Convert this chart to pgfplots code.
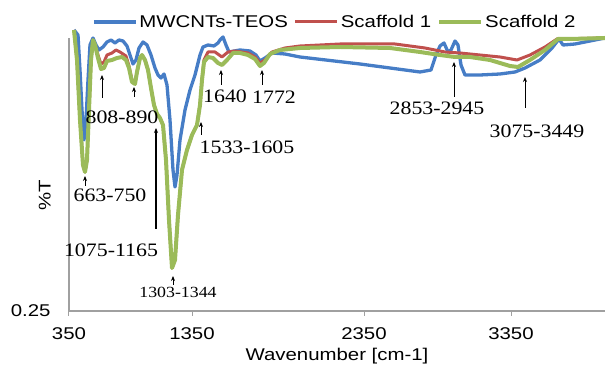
\documentclass[border=0pt]{standalone}
\usepackage{fontspec}
\setmainfont{Liberation Sans}[FakeStretch=1.2]
\newfontfamily\annfont{Liberation Serif}[FakeStretch=1.15]
\usepackage{pgfplots}
\pgfplotsset{compat=1.18}
\usetikzlibrary{arrows.meta}
\definecolor{cblue}{RGB}{70,125,198}
\definecolor{cred}{RGB}{192,80,77}
\definecolor{cgreen}{RGB}{155,187,89}
\definecolor{axgray}{RGB}{160,160,160}
\begin{document}
\begin{tikzpicture}[x=1pt,y=1pt]
\useasboundingbox (-69,-60) rectangle (536,311);
\begin{axis}[
  at={(0,0)}, anchor=south west, scale only axis,
  width=536pt, height=273pt,
  xmin=0, xmax=536, ymin=0, ymax=273,
  clip=false,
  axis x line*=bottom, axis y line*=left,
  axis line style={draw=axgray, line width=1.2pt, -},
  xtick={0,123,295,442},
  xticklabels={350,1350,2350,3350},
  ytick={0}, yticklabels={0.25},
  tick align=outside,
  x tick style={draw=axgray, line width=1pt},
  y tick style={draw=none},
  major tick length=5pt,
  /pgf/number format/assume math mode=true,
  tick label style={font=\fontsize{17}{20}\selectfont},
  xticklabel style={yshift=-8pt},
  yticklabel style={xshift=-10pt},
  xlabel={Wavenumber [cm-1]},
  xlabel style={font=\fontsize{17}{20}\selectfont, at={(axis description cs:0.5,-0.165)}, anchor=center},
  ylabel={\%T},
  ylabel style={font=\fontsize{17}{20}\selectfont, at={(axis description cs:-0.045,0.425)}, anchor=center},
  legend columns=3,
  legend style={draw=none, fill=none, font=\fontsize{17}{20}\selectfont,
    at={(0.496,1.059)}, anchor=center,
    /tikz/every even column/.append style={column sep=4pt},
    inner xsep=0pt, inner ysep=0pt},
  legend cell align=left,
  legend image code/.code={\draw[#1] (0pt,0pt) -- (42pt,0pt);},
]
\addplot[cblue, line width=3.3pt, line join=round] table {
5 281
9 276
11 241
13 201
15 171
17 191
19 231
21 266
24 273
27 266
30 261
34 264
38 269
42 271
46 268
50 271
54 270
58 265
61 256
64 247
67 251
70 263
74 269
78 266
82 256
86 243
89 236
92 233
95 237
98 226
101 191
104 141
106 124
108 136
111 171
116 201
121 221
126 236
131 256
134 264
139 266
145 265
149 268
151 271
154 274
157 266
160 259
171 261
181 260
187 256
191 250
196 253
203 258
216 257
231 254
291 247
351 239
362 241
367 256
371 265
375 268
379 259
382 261
386 270
389 266
392 246
396 236
411 236
431 237
446 239
456 243
471 251
483 263
490 272
494 266
506 267
521 270
536 273
};
\addlegendentry{MWCNTs-TEOS}
\addplot[cred, line width=3pt, line join=round] table {
5 281
8 251
11 191
14 146
16 139
18 151
20 201
22 251
24 271
26 266
29 256
32 247
35 249
38 256
43 258
47 261
51 259
57 255
60 245
63 231
66 228
68 239
71 253
73 256
76 251
79 241
82 223
85 206
88 197
91 193
94 186
97 151
100 91
103 43
106 51
109 96
113 141
118 161
123 176
128 186
131 206
133 231
135 251
139 259
146 259
153 254
159 259
166 260
179 258
186 254
191 248
196 251
203 259
216 263
231 265
271 267
326 267
356 263
376 259
391 258
411 256
431 254
448 251
461 256
476 264
488 272
536 273
};
\addlegendentry{Scaffold 1}
\addplot[cgreen, line width=4pt, line join=round] table {
5 281
8 251
11 191
14 146
16 139
18 151
20 201
22 251
24 271
26 266
29 253
32 242
35 243
38 250
43 251
48 253
53 254
57 251
60 243
63 229
66 227
68 239
71 253
73 256
76 251
79 241
82 223
85 206
88 197
91 193
94 186
97 151
100 91
103 43
106 51
109 96
113 141
118 161
123 176
128 186
131 206
133 231
135 249
139 254
144 253
149 248
153 246
158 251
164 258
171 258
179 256
186 252
191 245
195 248
201 257
211 261
231 263
271 264
321 263
351 259
371 256
386 254
401 254
421 251
441 245
449 244
461 251
476 261
489 272
501 272
536 273
};
\addlegendentry{Scaffold 2}
% annotations
\begin{scope}[every node/.style={font=\annfont\fontsize{19}{22}\selectfont, inner sep=0pt}]
\node at (axis cs:41,116) {663-750};
\node at (axis cs:53,194) {808-890};
\node at (axis cs:42,61) {1075-1165};
\node at (axis cs:178,164) {1533-1605};
\node at (axis cs:156,215) {1640};
\node at (axis cs:205,214) {1772};
\node at (axis cs:368,203) {2853-2945};
\node at (axis cs:468,180) {3075-3449};
\end{scope}
\node[font=\annfont\fontsize{15.5}{18}\selectfont, inner sep=0pt] at (axis cs:109,19) {1303-1344};
\begin{scope}[line width=0.9pt, -{Stealth[length=5pt,width=4pt]}]
\draw (axis cs:16,125) -- (axis cs:16,135);
\draw (axis cs:33,213) -- (axis cs:33,236);
\draw (axis cs:65,214) -- (axis cs:65,224);
\draw[line width=1.3pt] (axis cs:87,82) -- (axis cs:87,183);
\draw (axis cs:104,26) -- (axis cs:104,35);
\draw (axis cs:132,176) -- (axis cs:132,189);
\draw (axis cs:152,226) -- (axis cs:152,241);
\draw (axis cs:193,226) -- (axis cs:193,241);
\draw (axis cs:385,214) -- (axis cs:385,249);
\draw (axis cs:456,203) -- (axis cs:456,234);
\end{scope}
\end{axis}
\end{tikzpicture}
\end{document}
